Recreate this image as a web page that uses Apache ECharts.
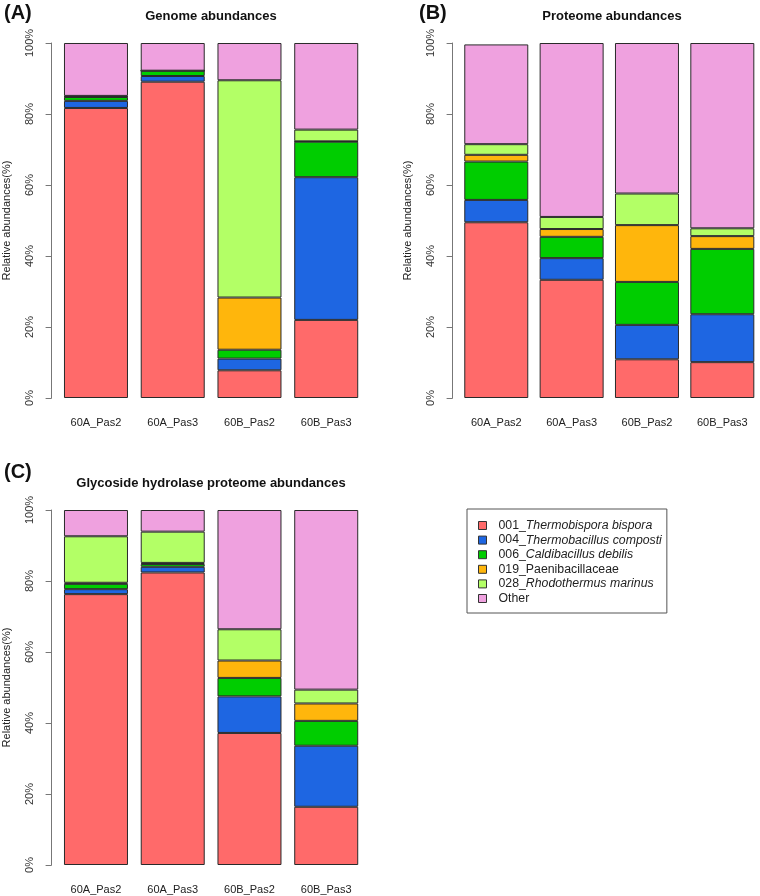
<!DOCTYPE html>
<html>
<head>
<meta charset="utf-8">
<script src="https://cdn.jsdelivr.net/npm/echarts@6/dist/echarts.min.js"></script>
<style>html,body{margin:0;padding:0;background:#fff}#c{width:760px;height:896px}</style>
</head>
<body>
<div id="c"></div>
<script>
const categories = ['60A_Pas2', '60A_Pas3', '60B_Pas2', '60B_Pas3'];
const taxa = ['001_Thermobispora bispora', '004_Thermobacillus composti', '006_Caldibacillus debilis', '019_Paenibacillaceae', '028_Rhodothermus marinus', 'Other'];
const yTicks = [0, 20, 40, 60, 80, 100];

// (A) Genome abundances
const genomeBispora  = [81.7, 89.1, 7.8, 22.0];
const genomeComposti = [2.0, 1.6, 3.3, 40.2];
const genomeDebilis  = [1.1, 1.5, 2.5, 10.0];
const genomePaeni    = [0.1, 0.0, 14.7, 0.1];
const genomeMarinus  = [0.2, 0.0, 61.2, 3.3];
const genomeOther    = [14.9, 7.8, 10.5, 24.4];

// (B) Proteome abundances
const proteomeBispora  = [49.5, 33.3, 10.9, 10.1];
const proteomeComposti = [6.3, 6.1, 9.7, 13.5];
const proteomeDebilis  = [10.8, 6.0, 12.1, 18.4];
const proteomePaeni    = [1.9, 2.2, 16.0, 3.6];
const proteomeMarinus  = [3.0, 3.4, 8.9, 2.2];
const proteomeOther    = [28.1, 49.0, 42.4, 52.2];

// (C) Glycoside hydrolase proteome abundances
const ghBispora  = [76.3, 82.4, 37.2, 16.4];
const ghComposti = [1.4, 1.6, 10.3, 17.2];
const ghDebilis  = [1.5, 0.8, 5.2, 7.0];
const ghPaeni    = [0.3, 0.3, 4.9, 4.9];
const ghMarinus  = [13.1, 8.8, 8.8, 3.9];
const ghOther    = [7.4, 6.1, 33.6, 50.6];

const colors = ['#FF6A6A', '#1E66E2', '#00CD00', '#FFB60C', '#B3FF66', '#EFA1DF'];

const panels = [
  [genomeBispora, genomeComposti, genomeDebilis, genomePaeni, genomeMarinus, genomeOther],
  [proteomeBispora, proteomeComposti, proteomeDebilis, proteomePaeni, proteomeMarinus, proteomeOther],
  [ghBispora, ghComposti, ghDebilis, ghPaeni, ghMarinus, ghOther]
];

const font = 'Liberation Sans, Arial, sans-serif';
const grids = [
  {left: 57.6, top: 43, width: 307, height: 355},
  {left: 458.6, top: 43, width: 307, height: 355},
  {left: 57.6, top: 510, width: 307, height: 355}
];

const xAxes = grids.map((g, i) => ({
  type: 'category', gridIndex: i, data: categories,
  axisLine: {show: false}, axisTick: {show: false},
  axisLabel: {margin: 19, fontSize: 11, color: '#222', fontFamily: font}
}));
const yAxes = grids.map((g, i) => ({
  type: 'value', gridIndex: i, min: 0, max: 100, interval: 20, offset: 6,
  name: 'Relative abundances(%)', nameLocation: 'middle', nameRotate: 90, nameGap: 39,
  nameTextStyle: {fontSize: 11, color: '#222', fontFamily: font},
  axisLine: {show: true, lineStyle: {color: '#777', width: 1}},
  axisTick: {show: true, length: 6, lineStyle: {color: '#777'}},
  splitLine: {show: false},
  axisLabel: {rotate: 90, margin: 16, fontSize: 11, color: '#333', fontFamily: font,
    formatter: v => yTicks.includes(v) ? v + '%' : ''}
}));

const series = [];
panels.forEach((p, pi) => {
  p.forEach((arr, ti) => {
    series.push({
      type: 'bar', name: taxa[ti], stack: 'p' + pi, xAxisIndex: pi, yAxisIndex: pi,
      data: arr, barWidth: 64,
      itemStyle: {color: colors[ti], borderColor: '#2a2a2a', borderWidth: 1},
      emphasis: {disabled: true}
    });
  });
});

function legendFmt(name) {
  const m = name.match(/^(\d{3}_)(.*)$/);
  if (!m) return '{n|' + name + '}';
  if (m[2] === 'Paenibacillaceae') return '{n|' + name + '}';
  return '{n|' + m[1] + '}{i|' + m[2] + '}';
}

const titles = [
  {text: 'Genome abundances', x: 211, y: 16},
  {text: 'Proteome abundances', x: 612, y: 16},
  {text: 'Glycoside hydrolase proteome abundances', x: 211, y: 483}
];
const letters = [
  {text: '(A)', x: 4, y: 13}, {text: '(B)', x: 419, y: 13}, {text: '(C)', x: 4, y: 472}
];

const graphic = [];
titles.forEach(t => graphic.push({type: 'text', x: t.x, y: t.y,
  style: {text: t.text, fill: '#111', font: 'bold 13px ' + font, textAlign: 'center', textVerticalAlign: 'middle'}}));
letters.forEach(t => graphic.push({type: 'text', x: t.x, y: t.y,
  style: {text: t.text, fill: '#111', font: 'bold 20px ' + font, textAlign: 'left', textVerticalAlign: 'middle'}}));

const chart = echarts.init(document.getElementById('c'), null, {renderer: 'canvas'});
chart.setOption({
  animation: false,
  backgroundColor: '#fff',
  grid: grids,
  xAxis: xAxes,
  yAxis: yAxes,
  series: series,
  graphic: graphic,
  legend: {
    data: taxa, orient: 'vertical', left: 467, top: 509,
    padding: [10, 5, 8, 11], itemGap: 1.6, itemWidth: 8, itemHeight: 8, icon: 'rect',
    borderColor: '#555', borderWidth: 1, selectedMode: false,
    itemStyle: {borderColor: '#333', borderWidth: 1},
    formatter: legendFmt,
    textStyle: {fontSize: 12.3, color: '#222', fontFamily: font, lineHeight: 13, padding: [0, 0, 0, 7],
      rich: {n: {fontSize: 12.3, fontFamily: font, color: '#222', lineHeight: 13},
             i: {fontSize: 12.3, fontFamily: font, color: '#222', fontStyle: 'italic', lineHeight: 13}}}
  }
});
</script>
</body>
</html>
